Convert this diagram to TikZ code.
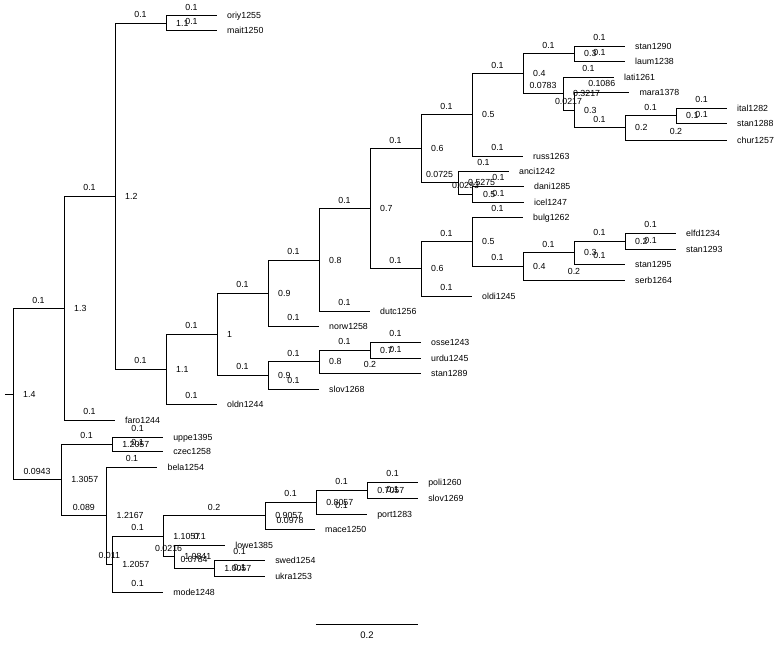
\documentclass[tikz,border=0pt]{standalone}
\usepackage{fontspec}
\setmainfont{Liberation Sans}
\usetikzlibrary{positioning}

\tikzset{
    branch/.style = {draw, line width = 0.9pt},
    blen/.style = {pos = 0.75, above = 4.5pt, inner sep = 0pt, font = \fontsize{8.8}{10}\selectfont},
    hgt/.style = {inner sep = 0pt, text depth = 0pt, font = \fontsize{8.8}{10}\selectfont},
    taxon/.style = {inner sep = 0pt, text depth = 0pt, font = \fontsize{8.8}{10}\selectfont}
}

\begin{document}
\begin{tikzpicture}[
            x = 510pt, % one unit of branch length
            y = -1pt, % rows counted downwards
            node distance = 10pt % gap between line end and text
        ]

        \useasboundingbox (-0.0255,0) rectangle (1.5078,647);

        % internal nodes, upper clade
        \coordinate (STEM) at (-0.0157,394.5);
        \coordinate (ROOT) at (0,394.5);
        \coordinate (UP) at (0.1,308.5);
        \coordinate (A) at (0.2,196);
        \coordinate (OM) at (0.3,23);
        \coordinate (B) at (0.3,369);
        \coordinate (C) at (0.4,334);
        \coordinate (D) at (0.5,293);
        \coordinate (F) at (0.6,260);
        \coordinate (G) at (0.7,208.5);
        \coordinate (H) at (0.8,148.5);
        \coordinate (J) at (0.9,114.5);
        \coordinate (L) at (1.0,73.5);
        \coordinate (M) at (1.1,53.5);
        \coordinate (P) at (1.0783,93.5);
        \coordinate (Q) at (1.1,110);
        \coordinate (R) at (1.2,127.75);
        \coordinate (S) at (1.3,115.5);
        \coordinate (K) at (0.8725,182.5);
        \coordinate (T) at (0.9018,194);
        \coordinate (I) at (0.8,268.75);
        \coordinate (U) at (0.9,241.5);
        \coordinate (V) at (1.0,266);
        \coordinate (W) at (1.1,252.5);
        \coordinate (X) at (1.2,241);
        \coordinate (E) at (0.5,375);
        \coordinate (Y) at (0.6,361.5);
        \coordinate (Z) at (0.7,350);

        % internal nodes, lower clade
        \coordinate (LO) at (0.0943,479.75);
        \coordinate (LA) at (0.1943,444);
        \coordinate (LB) at (0.1833,515.5);
        \coordinate (LC) at (0.1943,564);
        \coordinate (LD) at (0.2943,536);
        \coordinate (LE) at (0.4943,515.5);
        \coordinate (LF) at (0.5943,502);
        \coordinate (LG) at (0.6943,490);
        \coordinate (LH) at (0.3159,556.5);
        \coordinate (LI) at (0.3943,568);

        % tips
        \coordinate (oriy) at (0.4,15.5);
        \coordinate (mait) at (0.4,30);
        \coordinate (stan1290) at (1.2,46);
        \coordinate (laum) at (1.2,61);
        \coordinate (lati) at (1.1783,77);
        \coordinate (mara) at (1.2086,92);
        \coordinate (ital) at (1.4,108);
        \coordinate (stan1288) at (1.4,123);
        \coordinate (chur) at (1.4,140);
        \coordinate (russ) at (1.0,156);
        \coordinate (anci) at (0.9725,171);
        \coordinate (dani) at (1.0018,186);
        \coordinate (icel) at (1.0018,202);
        \coordinate (bulg) at (1.0,217);
        \coordinate (elfd) at (1.3,233);
        \coordinate (stan1293) at (1.3,249);
        \coordinate (stan1295) at (1.2,264);
        \coordinate (serb) at (1.2,280);
        \coordinate (oldi) at (0.9,296);
        \coordinate (dutc) at (0.7,311);
        \coordinate (norw) at (0.6,326);
        \coordinate (osse) at (0.8,342);
        \coordinate (urdu) at (0.8,358);
        \coordinate (stan1289) at (0.8,373);
        \coordinate (slov1268) at (0.6,389);
        \coordinate (oldn) at (0.4,404);
        \coordinate (faro) at (0.2,420);
        \coordinate (uppe) at (0.2943,437);
        \coordinate (czec) at (0.2943,451);
        \coordinate (bela) at (0.2833,467);
        \coordinate (poli) at (0.7943,482);
        \coordinate (slov1269) at (0.7943,498);
        \coordinate (port) at (0.6943,514);
        \coordinate (mace) at (0.5921,529);
        \coordinate (lowe) at (0.4159,545);
        \coordinate (swed) at (0.4943,560);
        \coordinate (ukra) at (0.4943,576);
        \coordinate (mode) at (0.2943,592);

        % tip names
        \node[taxon, right=of oriy] (oriyL) {oriy1255};
        \node[taxon, right=of mait] (maitL) {mait1250};
        \node[taxon, right=of stan1290] (stan1290L) {stan1290};
        \node[taxon, right=of laum] (laumL) {laum1238};
        \node[taxon, right=of lati] (latiL) {lati1261};
        \node[taxon, right=of mara] (maraL) {mara1378};
        \node[taxon, right=of ital] (italL) {ital1282};
        \node[taxon, right=of stan1288] (stan1288L) {stan1288};
        \node[taxon, right=of chur] (churL) {chur1257};
        \node[taxon, right=of russ] (russL) {russ1263};
        \node[taxon, right=of anci] (anciL) {anci1242};
        \node[taxon, right=of dani] (daniL) {dani1285};
        \node[taxon, right=of icel] (icelL) {icel1247};
        \node[taxon, right=of bulg] (bulgL) {bulg1262};
        \node[taxon, right=of elfd] (elfdL) {elfd1234};
        \node[taxon, right=of stan1293] (stan1293L) {stan1293};
        \node[taxon, right=of stan1295] (stan1295L) {stan1295};
        \node[taxon, right=of serb] (serbL) {serb1264};
        \node[taxon, right=of oldi] (oldiL) {oldi1245};
        \node[taxon, right=of dutc] (dutcL) {dutc1256};
        \node[taxon, right=of norw] (norwL) {norw1258};
        \node[taxon, right=of osse] (osseL) {osse1243};
        \node[taxon, right=of urdu] (urduL) {urdu1245};
        \node[taxon, right=of stan1289] (stan1289L) {stan1289};
        \node[taxon, right=of slov1268] (slov1268L) {slov1268};
        \node[taxon, right=of oldn] (oldnL) {oldn1244};
        \node[taxon, right=of faro] (faroL) {faro1244};
        \node[taxon, right=of uppe] (uppeL) {uppe1395};
        \node[taxon, right=of czec] (czecL) {czec1258};
        \node[taxon, right=of bela] (belaL) {bela1254};
        \node[taxon, right=of poli] (poliL) {poli1260};
        \node[taxon, right=of slov1269] (slov1269L) {slov1269};
        \node[taxon, right=of port] (portL) {port1283};
        \node[taxon, right=of mace] (maceL) {mace1250};
        \node[taxon, right=of lowe] (loweL) {lowe1385};
        \node[taxon, right=of swed] (swedL) {swed1254};
        \node[taxon, right=of ukra] (ukraL) {ukra1253};
        \node[taxon, right=of mode] (modeL) {mode1248};

        % node heights
        \node[hgt, right=of ROOT] (ROOTh) {1.4};
        \node[hgt, right=of UP] (UPh) {1.3};
        \node[hgt, right=of A] (Ah) {1.2};
        \node[hgt, right=of OM] (OMh) {1.1};
        \node[hgt, right=of B] (Bh) {1.1};
        \node[hgt, right=of C] (Ch) {1};
        \node[hgt, right=of D] (Dh) {0.9};
        \node[hgt, right=of F] (Fh) {0.8};
        \node[hgt, right=of G] (Gh) {0.7};
        \node[hgt, right=of H] (Hh) {0.6};
        \node[hgt, right=of J] (Jh) {0.5};
        \node[hgt, right=of L] (Lh) {0.4};
        \node[hgt, right=of M] (Mh) {0.3};
        \node[hgt, right=of P] (Ph) {0.3217};
        \node[hgt, right=of Q] (Qh) {0.3};
        \node[hgt, right=of R] (Rh) {0.2};
        \node[hgt, right=of S] (Sh) {0.1};
        \node[hgt, right=of K] (Kh) {0.5275};
        \node[hgt, right=of T] (Th) {0.5};
        \node[hgt, right=of I] (Ih) {0.6};
        \node[hgt, right=of U] (Uh) {0.5};
        \node[hgt, right=of V] (Vh) {0.4};
        \node[hgt, right=of W] (Wh) {0.3};
        \node[hgt, right=of X] (Xh) {0.2};
        \node[hgt, right=of E] (Eh) {0.9};
        \node[hgt, right=of Y] (Yh) {0.8};
        \node[hgt, right=of Z] (Zh) {0.7};
        \node[hgt, right=of LO] (LOh) {1.3057};
        \node[hgt, right=of LA] (LAh) {1.2057};
        \node[hgt, right=of LB] (LBh) {1.2167};
        \node[hgt, right=of LC] (LCh) {1.2057};
        \node[hgt, right=of LD] (LDh) {1.1057};
        \node[hgt, right=of LE] (LEh) {0.9057};
        \node[hgt, right=of LF] (LFh) {0.8057};
        \node[hgt, right=of LG] (LGh) {0.7057};
        \node[hgt, right=of LH] (LHh) {1.0841};
        \node[hgt, right=of LI] (LIh) {1.0057};

        % branches, upper clade
        \path[branch] (STEM) -- (ROOT);
        \path[branch] (ROOT) |- node[blen] {0.1} (UP);
        \path[branch] (ROOT) |- node[blen] {0.0943} (LO);
        \path[branch] (UP) |- node[blen] {0.1} (A);
        \path[branch] (UP) |- node[blen] {0.1} (faro);
        \path[branch] (A) |- node[blen] {0.1} (OM);
        \path[branch] (A) |- node[blen] {0.1} (B);
        \path[branch] (OM) |- node[blen] {0.1} (oriy);
        \path[branch] (OM) |- node[blen] {0.1} (mait);
        \path[branch] (B) |- node[blen] {0.1} (C);
        \path[branch] (B) |- node[blen] {0.1} (oldn);
        \path[branch] (C) |- node[blen] {0.1} (D);
        \path[branch] (C) |- node[blen] {0.1} (E);
        \path[branch] (D) |- node[blen] {0.1} (F);
        \path[branch] (D) |- node[blen] {0.1} (norw);
        \path[branch] (F) |- node[blen] {0.1} (G);
        \path[branch] (F) |- node[blen] {0.1} (dutc);
        \path[branch] (G) |- node[blen] {0.1} (H);
        \path[branch] (G) |- node[blen] {0.1} (I);
        \path[branch] (H) |- node[blen] {0.1} (J);
        \path[branch] (H) |- node[blen] {0.0725} (K);
        \path[branch] (J) |- node[blen] {0.1} (L);
        \path[branch] (J) |- node[blen] {0.1} (russ);
        \path[branch] (L) |- node[blen] {0.1} (M);
        \path[branch] (L) |- node[blen] {0.0783} (P);
        \path[branch] (M) |- node[blen] {0.1} (stan1290);
        \path[branch] (M) |- node[blen] {0.1} (laum);
        \path[branch] (P) |- node[blen] {0.1} (lati);
        \path[branch] (P) |- node[blen] {0.0217} (Q);
        \path[branch] (Q) |- node[blen] {0.1086} (mara);
        \path[branch] (Q) |- node[blen] {0.1} (R);
        \path[branch] (R) |- node[blen] {0.1} (S);
        \path[branch] (R) |- node[blen] {0.2} (chur);
        \path[branch] (S) |- node[blen] {0.1} (ital);
        \path[branch] (S) |- node[blen] {0.1} (stan1288);
        \path[branch] (K) |- node[blen] {0.1} (anci);
        \path[branch] (K) |- node[blen] {0.0293} (T);
        \path[branch] (T) |- node[blen] {0.1} (dani);
        \path[branch] (T) |- node[blen] {0.1} (icel);
        \path[branch] (I) |- node[blen] {0.1} (U);
        \path[branch] (I) |- node[blen] {0.1} (oldi);
        \path[branch] (U) |- node[blen] {0.1} (bulg);
        \path[branch] (U) |- node[blen] {0.1} (V);
        \path[branch] (V) |- node[blen] {0.1} (W);
        \path[branch] (V) |- node[blen] {0.2} (serb);
        \path[branch] (W) |- node[blen] {0.1} (X);
        \path[branch] (W) |- node[blen] {0.1} (stan1295);
        \path[branch] (X) |- node[blen] {0.1} (elfd);
        \path[branch] (X) |- node[blen] {0.1} (stan1293);
        \path[branch] (E) |- node[blen] {0.1} (Y);
        \path[branch] (E) |- node[blen] {0.1} (slov1268);
        \path[branch] (Y) |- node[blen] {0.1} (Z);
        \path[branch] (Y) |- node[blen] {0.2} (stan1289);
        \path[branch] (Z) |- node[blen] {0.1} (osse);
        \path[branch] (Z) |- node[blen] {0.1} (urdu);

        % branches, lower clade
        \path[branch] (LO) |- node[blen] {0.1} (LA);
        \path[branch] (LO) |- node[blen] {0.089} (LB);
        \path[branch] (LA) |- node[blen] {0.1} (uppe);
        \path[branch] (LA) |- node[blen] {0.1} (czec);
        \path[branch] (LB) |- node[blen] {0.1} (bela);
        \path[branch] (LB) |- node[blen] {0.011} (LC);
        \path[branch] (LC) |- node[blen] {0.1} (LD);
        \path[branch] (LC) |- node[blen] {0.1} (mode);
        \path[branch] (LD) |- node[blen] {0.2} (LE);
        \path[branch] (LD) |- node[blen] {0.0216} (LH);
        \path[branch] (LE) |- node[blen] {0.1} (LF);
        \path[branch] (LE) |- node[blen] {0.0978} (mace);
        \path[branch] (LF) |- node[blen] {0.1} (LG);
        \path[branch] (LF) |- node[blen] {0.1} (port);
        \path[branch] (LG) |- node[blen] {0.1} (poli);
        \path[branch] (LG) |- node[blen] {0.1} (slov1269);
        \path[branch] (LH) |- node[blen] {0.1} (lowe);
        \path[branch] (LH) |- node[blen] {0.0784} (LI);
        \path[branch] (LI) |- node[blen] {0.1} (swed);
        \path[branch] (LI) |- node[blen] {0.1} (ukra);

        % scale bar
        \coordinate (SBL) at (0.594,624.5);
        \coordinate (SBR) at (0.794,624.5);
        \path[branch] (SBL) -- node[below = 7pt, inner sep = 0pt, font = \fontsize{9.5}{11}\selectfont] (SBT) {0.2} (SBR);

\end{tikzpicture}
\end{document}
